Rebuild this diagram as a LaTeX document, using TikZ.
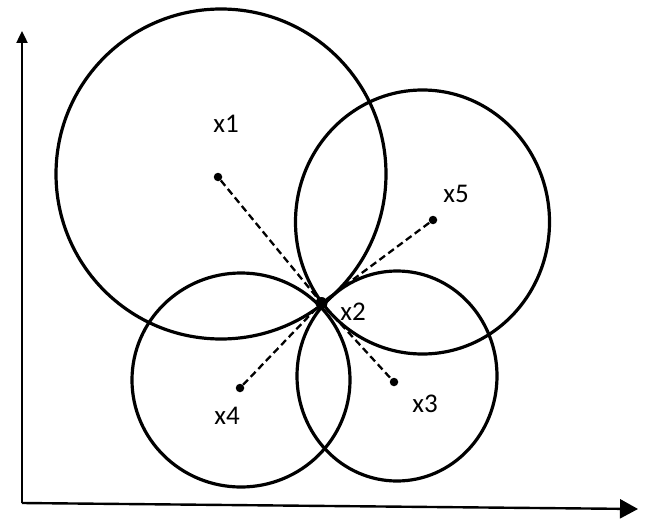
\documentclass[tikz,border=0pt]{standalone}
\usepackage{fontspec}
\setmainfont{Carlito}
\usetikzlibrary{arrows.meta}
\begin{document}
\begin{tikzpicture}[x=1pt,y=-1pt,
  ring/.style={line width=3.2pt},
  axisline/.style={line width=2.4pt},
  dotpt/.style={circle,fill,inner sep=0pt,minimum size=8.5pt},
  bigdot/.style={circle,fill,inner sep=0pt,minimum size=12pt},
  lbl/.style={font=\fontsize{27}{27}\selectfont,inner sep=0pt},
  link/.style={line width=2.3pt,dash pattern=on 7pt off 4pt}]
\useasboundingbox (0,0) rectangle (650,532);
% axes
\coordinate (o) at (22,503);
\coordinate (ytip) at (22,31);
\coordinate (xtip) at (638,509);
\draw[axisline,-{Triangle[length=12pt,width=11pt]}] (o) -- (ytip);
\draw[axisline,-{Triangle[length=18pt,width=19pt]}] (o) -- (xtip);
% circles
\draw[ring] (221,174) circle[radius=165pt];
\draw[ring] (422.5,222) ellipse[x radius=127pt,y radius=132pt];
\draw[ring] (241,380) ellipse[x radius=109pt,y radius=107pt];
\draw[ring] (397,376) ellipse[x radius=100pt,y radius=105pt];
% points
\node[dotpt] (p1) at (218,177) {};
\node[bigdot] (p2) at (321.5,303) {};
\node[dotpt] (p3) at (394,382) {};
\node[dotpt] (p4) at (240,388) {};
\node[dotpt] (p5) at (433,220) {};
% dashed links
\draw[link] (p1) -- (p2);
\draw[link] (p2) -- (p3);
\draw[link] (p4) -- (p2);
\draw[link] (p2) -- (p5);
% labels
\node[lbl] (l1) at (226,124) {x1};
\node[lbl] (l2) at (353,312) {x2};
\node[lbl] (l3) at (425,404) {x3};
\node[lbl] (l4) at (227,416) {x4};
\node[lbl] (l5) at (456,194) {x5};
\end{tikzpicture}
\end{document}
